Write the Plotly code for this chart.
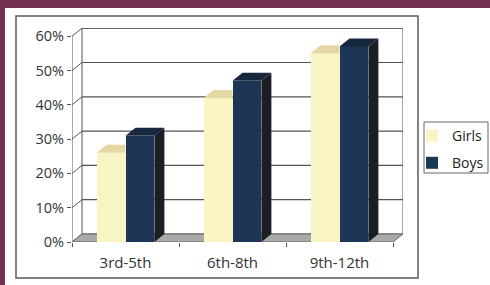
import plotly.graph_objects as go

categories = ["3rd-5th", "6th-8th", "9th-12th"]
girls = [0.26, 0.42, 0.55]
boys = [0.31, 0.47, 0.57]
series_names = ["Girls", "Boys"]
y_ticks = [0, 0.1, 0.2, 0.3, 0.4, 0.5, 0.6]
y_ticktext = ["0%", "10%", "20%", "30%", "40%", "50%", "60%"]

W, H = 490, 285
ML, MR, MT, MB = 72, 87, 28, 43
PW, PH = W - ML - MR, H - MT - MB
XR = [-0.5, 2.5 + 10 / 107]
YR = [0, (242 - 28) / 343]
DX = 10 * (XR[1] - XR[0]) / PW
DY = 8 * (YR[1] - YR[0]) / PH
BW = 0.27

GIRL = "#F8F4C4"
GIRL_TOP = "#E4D7A4"
BOY = "#1E3656"
BOY_TOP = "#17273E"
BOY_SIDE = "#1B1E25"


def px_x(p):
    return (p - ML) / PW


def px_y(p):
    return 1 - (p - MT) / PH


fig = go.Figure()
xs = list(range(len(categories)))

fig.add_trace(go.Bar(x=[x - BW / 2 for x in xs], y=girls, width=BW, name=series_names[0],
                     legendgroup="g", marker=dict(color=GIRL, line=dict(width=0)), hoverinfo="skip"))
fig.add_trace(go.Bar(x=[x + BW / 2 for x in xs], y=boys, width=BW, name=series_names[1],
                     legendgroup="b", marker=dict(color=BOY, line=dict(width=0)), hoverinfo="skip"))

for i, x in enumerate(xs):
    gl, gr = x - BW, x
    v = girls[i]
    fig.add_trace(go.Scatter(x=[gl, gl + DX, gr, gr, gl], y=[v, v + DY, v + DY, v, v],
                             fill="toself", fillcolor=GIRL_TOP, mode="lines", line=dict(width=0),
                             showlegend=False, hoverinfo="skip"))
    bl, br = x, x + BW
    v = boys[i]
    fig.add_trace(go.Scatter(x=[bl, bl + DX, br + DX, br, bl], y=[v, v + DY, v + DY, v, v],
                             fill="toself", fillcolor=BOY_TOP, mode="lines", line=dict(width=0),
                             showlegend=False, hoverinfo="skip"))
    fig.add_trace(go.Scatter(x=[br, br + DX, br + DX, br, br], y=[0, DY, v + DY, v, 0],
                             fill="toself", fillcolor=BOY_SIDE, mode="lines", line=dict(width=0),
                             showlegend=False, hoverinfo="skip"))

shapes = []
shapes.append(dict(type="rect", xref="paper", yref="paper",
                   x0=px_x(5), x1=px_x(W + 5), y0=px_y(H + 5), y1=px_y(8),
                   fillcolor="white", line=dict(width=0), layer="below"))
shapes.append(dict(type="rect", xref="paper", yref="paper",
                   x0=px_x(16), x1=px_x(418), y0=px_y(278), y1=px_y(16),
                   fillcolor="rgba(0,0,0,0)", line=dict(color="#5a5a5a", width=1.5), layer="below"))
# legend box
shapes.append(dict(type="rect", xref="paper", yref="paper",
                   x0=px_x(424), x1=px_x(488), y0=px_y(173), y1=px_y(122),
                   fillcolor="white", line=dict(color="#666", width=1), layer="below"))
x0b, x1b = XR[0] + DX, XR[1]
shapes.append(dict(type="rect", xref="x", yref="y", x0=x0b, x1=x1b, y0=DY, y1=YR[1],
                   fillcolor="white", line=dict(color="#555", width=1), layer="below"))
for t in y_ticks:
    if t > 0:
        shapes.append(dict(type="line", xref="x", yref="y", x0=x0b, x1=x1b, y0=t + DY, y1=t + DY,
                           line=dict(color="#555", width=1.2), layer="below"))
    shapes.append(dict(type="line", xref="x", yref="y", x0=XR[0], x1=x0b, y0=t, y1=t + DY,
                       line=dict(color="#555", width=1), layer="below"))
shapes.append(dict(type="line", xref="x", yref="y", x0=XR[0], x1=XR[0], y0=0, y1=0.6,
                   line=dict(color="#555", width=1), layer="below"))
shapes.append(dict(type="path", xref="x", yref="y",
                   path=f"M {XR[0]},0 L {x0b},{DY} L {x1b},{DY} L {x1b - DX},0 Z",
                   fillcolor="#A9A9A9", line=dict(color="#666", width=1), layer="below"))
fig.update_layout(shapes=shapes)

fig.update_layout(
    width=W, height=H,
    margin=dict(l=ML, r=MR, t=MT, b=MB, pad=0, autoexpand=False),
    paper_bgcolor="#74304F", plot_bgcolor="rgba(0,0,0,0)",
    barmode="overlay", bargap=0,
    font=dict(family="Open Sans, sans-serif", size=14, color="#333"),
    showlegend=True,
    legend=dict(x=px_x(412), xanchor="left", y=px_y(120), yanchor="top",
                bgcolor="rgba(0,0,0,0)", borderwidth=0, traceorder="grouped",
                font=dict(size=14, color="#222"), itemwidth=30, tracegroupgap=6),
)
fig.update_xaxes(range=XR, tickmode="array", tickvals=xs, ticktext=categories,
                 ticks="", showgrid=False, zeroline=False, showline=False,
                 tickfont=dict(size=15), ticklabelstandoff=10,
                 minor=dict(tickmode="array", tickvals=[-0.5, 0.5, 1.5, 2.5], ticks="outside",
                            ticklen=4, tickcolor="#555", showgrid=False))
fig.update_yaxes(range=YR, tickmode="array", tickvals=y_ticks, ticktext=y_ticktext,
                 ticks="outside", ticklen=4, tickcolor="#555", showgrid=False, zeroline=False,
                 showline=False, tickfont=dict(size=14.5))

fig.write_html("out.html", config={"displayModeBar": False},
               post_script="document.body.style.margin='0';")
